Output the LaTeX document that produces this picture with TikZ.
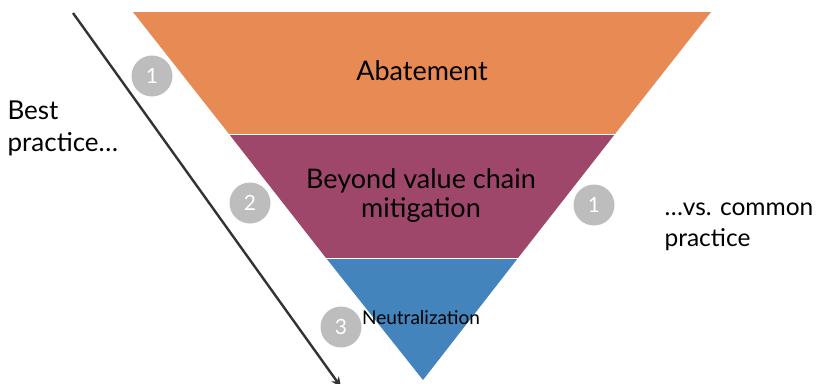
\documentclass[tikz,border=0pt]{standalone}
\usepackage{fontspec}
\setmainfont{Lato}
\usetikzlibrary{arrows.meta}
\definecolor{abate}{HTML}{E88A54}
\definecolor{beyond}{HTML}{9E476B}
\definecolor{neutral}{HTML}{4484BC}
\definecolor{badge}{HTML}{BDBDBD}
\definecolor{ink}{HTML}{333333}

\begin{document}
\begin{tikzpicture}[
  x=1pt,y=-1pt,
  band/.style={draw=white,line width=1pt},
  label/.style={font={\fontsize{27}{29}\selectfont},text=black,align=center},
  side/.style={font={\fontsize{26}{32}\selectfont},text=black,align=left,anchor=west},
  num/.style={circle,fill=badge,minimum size=41pt,inner sep=0pt,
    text=white,font={\fontsize{21}{21}\selectfont}},
  ]
  \useasboundingbox (0,0) rectangle (818,383);
  % Funnel corners
  \coordinate (tl) at (133,12);
  \coordinate (tr) at (711,12);
  \coordinate (ml) at (229,134);
  \coordinate (mr) at (615,134);
  \coordinate (ll) at (326,258);
  \coordinate (lr) at (518,258);
  \coordinate (tip) at (423,380);
  % Bands
  \fill[abate] (tl) -- (tr) -- (mr) -- (ml) -- cycle;
  \fill[beyond] (ml) -- (mr) -- (lr) -- (ll) -- cycle;
  \fill[neutral] (ll) -- (lr) -- (tip) -- cycle;
  \draw[band] (ml) -- (mr);
  \draw[band] (ll) -- (lr);
  % Band labels
  \node[label] (abatement) at (422,71) {Abatement};
  \node[label] (mitigation) at (421,196) {Beyond value chain\\mitigation};
  \node[label,font={\fontsize{19}{21}\selectfont}] (neutralization) at (421,318) {Neutralization};
  % Best practice arrow
  \coordinate (start) at (73,13);
  \coordinate (end) at (341,387);
  \draw[ink,line width=2.4pt,-{Stealth[length=10pt,width=9pt]}] (start) -- (end);
  % Numbered badges
  \node[num] (first) at (152,76) {1};
  \node[num] (second) at (250,203) {2};
  \node[num] (common) at (594,205) {1};
  \node[num] (third) at (341,327) {3};
  % Side texts
  \node[side] (best) at (4,128) {Best\\practice\dots};
  \node[side,font={\fontsize{24.5}{31}\selectfont}] (usual) at (661,227) {\dots vs. common\\practice};
\end{tikzpicture}
\end{document}
